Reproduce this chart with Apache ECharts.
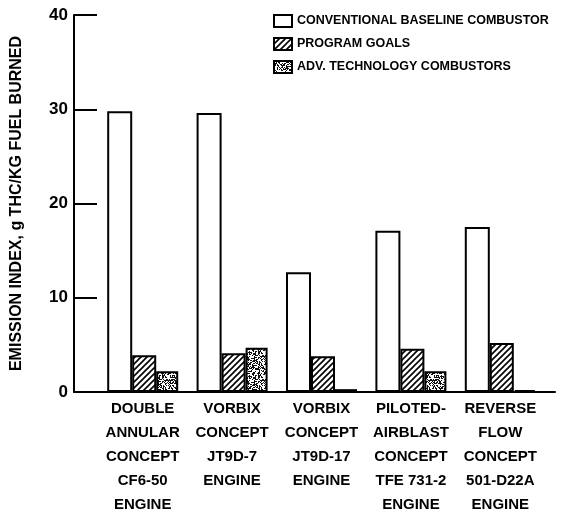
<!DOCTYPE html>
<html>
<head>
<meta charset="utf-8">
<script src="https://cdn.jsdelivr.net/npm/echarts@6/dist/echarts.min.js"></script>
<style>
  html, body { margin: 0; padding: 0; background: #fff; }
  #main { width: 562px; height: 515px; }
</style>
</head>
<body>
<div id="main"></div>
<script>
// 数据
var categories = [
  'DOUBLE\nANNULAR\nCONCEPT\nCF6-50\nENGINE',
  'VORBIX\nCONCEPT\nJT9D-7\nENGINE',
  'VORBIX\nCONCEPT\nJT9D-17\nENGINE',
  'PILOTED-\nAIRBLAST\nCONCEPT\nTFE 731-2\nENGINE',
  'REVERSE\nFLOW\nCONCEPT\n501-D22A\nENGINE'
];
var baseline = [29.8, 29.6, 12.7, 17.1, 17.5];
var goals = [3.9, 4.1, 3.8, 4.6, 5.2];
var advanced = [2.2, 4.7, 0.3, 2.2, 0.2];
var yTicks = [0, 10, 20, 30, 40];

var font = "'Liberation Sans', Arial, sans-serif";

// 斜线填充
function hatchPattern() {
  var c = document.createElement('canvas');
  c.width = 6; c.height = 6;
  var ctx = c.getContext('2d');
  ctx.fillStyle = '#fff';
  ctx.fillRect(0, 0, 6, 6);
  ctx.strokeStyle = '#000';
  ctx.lineWidth = 1.6;
  ctx.beginPath();
  ctx.moveTo(-1, 7); ctx.lineTo(7, -1);
  ctx.moveTo(-4, 4); ctx.lineTo(4, -4);
  ctx.moveTo(2, 10); ctx.lineTo(10, 2);
  ctx.stroke();
  return c;
}

// 点状填充（固定种子）
function stipplePattern() {
  var c = document.createElement('canvas');
  c.width = 24; c.height = 24;
  var ctx = c.getContext('2d');
  ctx.fillStyle = '#fff';
  ctx.fillRect(0, 0, 24, 24);
  ctx.fillStyle = '#111';
  var s = 7;
  for (var i = 0; i < 24 * 24; i++) {
    s = (s * 1103515245 + 12345) % 2147483648;
    if ((s / 2147483648) < 0.45) {
      ctx.fillRect(i % 24, Math.floor(i / 24), 1, 1);
    }
  }
  return c;
}

var chart = echarts.init(document.getElementById('main'));

var barBorder = { borderColor: '#000', borderWidth: 2 };

var option = {
  animation: false,
  backgroundColor: '#fff',
  textStyle: { fontFamily: font, fontWeight: 'bold', color: '#000' },
  legend: {
    left: 268,
    top: 9,
    orient: 'vertical',
    icon: 'rect',
    itemWidth: 18,
    itemHeight: 12,
    itemGap: 9,
    textStyle: { fontFamily: font, fontWeight: 'bold', fontSize: 12.5, color: '#000' },
    data: ['CONVENTIONAL BASELINE COMBUSTOR', 'PROGRAM GOALS', 'ADV. TECHNOLOGY COMBUSTORS']
  },
  grid: [
    { left: 74, right: 7, top: 15, bottom: 123, outerBoundsMode: 'none' },
    { left: 98, right: 17, top: 15, bottom: 123, outerBoundsMode: 'none' }
  ],
  xAxis: [
    {
      gridIndex: 0, type: 'value', min: 0, max: 1,
      axisLine: { show: true, lineStyle: { color: '#000', width: 2 } },
      axisTick: { show: false }, axisLabel: { show: false }, splitLine: { show: false }
    },
    {
      gridIndex: 1, type: 'category', data: categories,
      axisLine: { show: false }, axisTick: { show: false },
      axisLabel: {
        margin: 5, fontSize: 15, lineHeight: 24, fontFamily: font,
        fontWeight: 'bold', color: '#000', interval: 0
      }
    }
  ],
  yAxis: [
    {
      gridIndex: 0, type: 'value', min: yTicks[0], max: yTicks[yTicks.length - 1], interval: 10,
      name: 'EMISSION INDEX, g THC/KG FUEL BURNED',
      nameLocation: 'middle', nameGap: 49, nameRotate: 90,
      nameTextStyle: { fontFamily: font, fontWeight: 'bold', fontSize: 16, color: '#000' },
      axisLine: { show: true, lineStyle: { color: '#000', width: 2 } },
      axisTick: { show: true, inside: true, length: 23, lineStyle: { color: '#000', width: 2 } },
      axisLabel: { fontSize: 17, fontFamily: font, fontWeight: 'bold', color: '#000', margin: 6 },
      splitLine: { show: false }
    },
    {
      gridIndex: 1, type: 'value', min: yTicks[0], max: yTicks[yTicks.length - 1], show: false
    }
  ],
  series: [
    {
      name: 'CONVENTIONAL BASELINE COMBUSTOR', type: 'bar', xAxisIndex: 1, yAxisIndex: 1,
      data: baseline, barWidth: 25, barGap: '0%',
      itemStyle: Object.assign({ color: '#fff' }, barBorder)
    },
    {
      name: 'PROGRAM GOALS', type: 'bar', xAxisIndex: 1, yAxisIndex: 1,
      data: goals, barWidth: 24, barGap: '0%',
      itemStyle: Object.assign({ color: { image: hatchPattern(), repeat: 'repeat' } }, barBorder)
    },
    {
      name: 'ADV. TECHNOLOGY COMBUSTORS', type: 'bar', xAxisIndex: 1, yAxisIndex: 1,
      data: advanced, barWidth: 22, barGap: '0%',
      itemStyle: Object.assign({ color: { image: stipplePattern(), repeat: 'repeat' } }, barBorder)
    }
  ]
};

chart.setOption(option);
</script>
</body>
</html>
